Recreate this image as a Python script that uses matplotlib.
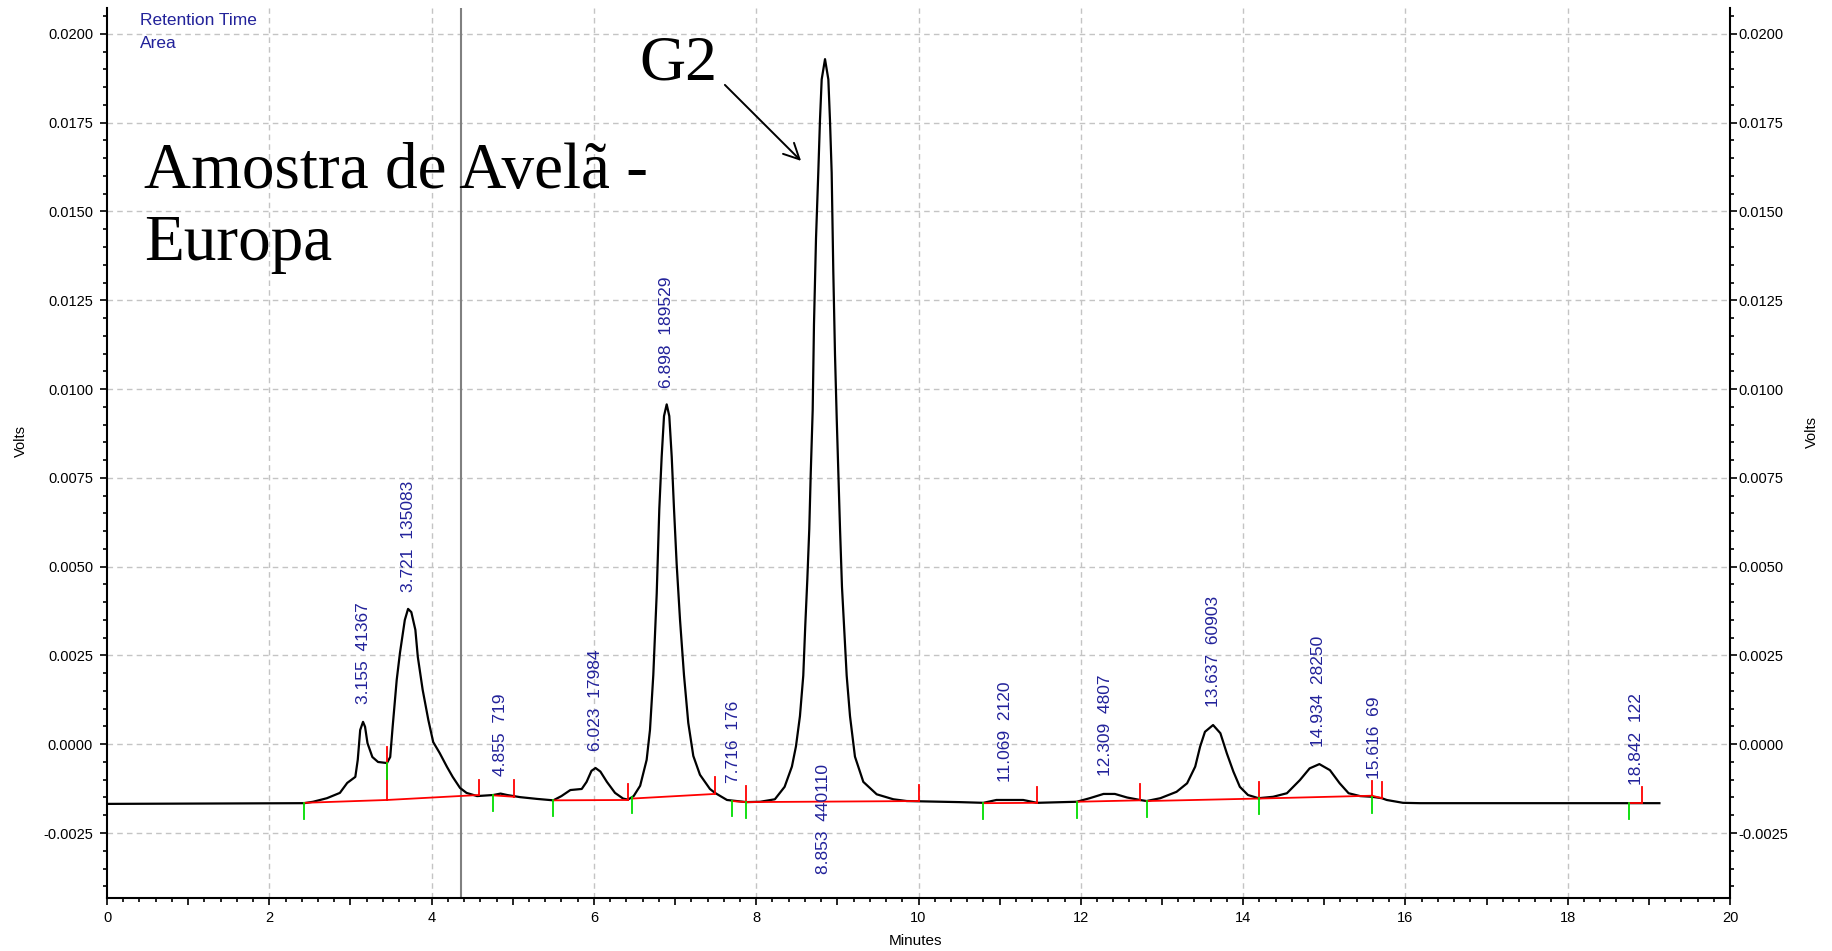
import numpy as np
import matplotlib

matplotlib.use("Agg")

import matplotlib.pyplot as plt
from matplotlib.ticker import MultipleLocator, FuncFormatter

plt.rcParams['font.family'] = ['Liberation Sans', 'DejaVu Sans']

# detector trace (minutes / volts)
trace_t = [0.00, 2.43, 2.54, 2.71, 2.87, 2.96, 3.06, 3.09, 3.12, 3.155, 3.18, 3.21, 3.27, 3.34,
           3.45, 3.49, 3.52, 3.57, 3.61, 3.67, 3.71, 3.75, 3.80, 3.83, 3.89, 3.96, 4.02, 4.10,
           4.19, 4.26, 4.35, 4.43, 4.56, 4.76, 4.85, 4.93, 5.09, 5.30, 5.50, 5.60, 5.71, 5.85,
           5.91, 5.97, 6.02, 6.08, 6.16, 6.26, 6.36, 6.42, 6.49, 6.57, 6.650, 6.691, 6.732,
           6.774, 6.806, 6.835, 6.864, 6.897, 6.929, 6.959, 6.987, 7.020, 7.061, 7.110, 7.163,
           7.225, 7.307, 7.430, 7.492, 7.64, 7.88, 8.05, 8.23, 8.35, 8.44, 8.490, 8.539, 8.580,
           8.605, 8.630, 8.654, 8.672, 8.696, 8.712, 8.737, 8.765, 8.786, 8.807, 8.848, 8.889,
           8.909, 8.930, 8.950, 8.971, 8.992, 9.012, 9.033, 9.057, 9.082, 9.115, 9.156, 9.217,
           9.320, 9.485, 9.690, 9.855, 10.50, 10.80, 10.96, 11.29, 11.46, 11.95, 12.11, 12.28,
           12.42, 12.57, 12.73, 12.81, 12.98, 13.18, 13.31, 13.41, 13.47, 13.53, 13.63, 13.72,
           13.80, 13.88, 13.96, 14.06, 14.19, 14.37, 14.54, 14.70, 14.82, 14.94, 15.07, 15.19,
           15.30, 15.44, 15.59, 15.71, 15.77, 15.97, 16.18, 18.75, 19.13]
trace_v = [-0.00168, -0.00166, -0.00162, -0.00152, -0.00137, -0.00109, -0.00092, -0.00044,
           0.00040, 0.00063, 0.00049, 0.00003, -0.00036, -0.00050, -0.00053, -0.00036, 0.00049,
           0.00181, 0.00257, 0.00350, 0.00381, 0.00372, 0.00322, 0.00246, 0.00153, 0.00068,
           0.00006, -0.00025, -0.00064, -0.00092, -0.00123, -0.00137, -0.00146, -0.00143,
           -0.00139, -0.00143, -0.00149, -0.00154, -0.00158, -0.00146, -0.00129, -0.00126,
           -0.00106, -0.00075, -0.00067, -0.00077, -0.00106, -0.00137, -0.00153, -0.00156,
           -0.00146, -0.00117, -0.00044, 0.00040, 0.00195, 0.00424, 0.00663, 0.00809, 0.00924,
           0.00957, 0.00924, 0.00809, 0.00663, 0.00507, 0.00351, 0.00195, 0.00060, -0.00033,
           -0.00086, -0.00126, -0.00137, -0.00157, -0.00163, -0.00162, -0.00155, -0.00120,
           -0.00063, -0.00006, 0.00079, 0.00193, 0.00336, 0.00464, 0.00606, 0.00762, 0.00940,
           0.01182, 0.01424, 0.01609, 0.01758, 0.01872, 0.01929, 0.01872, 0.01758, 0.01609,
           0.01332, 0.01097, 0.00919, 0.00762, 0.00606, 0.00443, 0.00336, 0.00193, 0.00079,
           -0.00035, -0.00106, -0.00141, -0.00155, -0.00160, -0.00163, -0.00165, -0.00157,
           -0.00157, -0.00165, -0.00162, -0.00152, -0.00140, -0.00140, -0.00150, -0.00157,
           -0.00160, -0.00152, -0.00134, -0.00110, -0.00063, -0.00007, 0.00035, 0.00054,
           0.00031, -0.00026, -0.00077, -0.00120, -0.00143, -0.00152, -0.00148, -0.00138,
           -0.00101, -0.00068, -0.00056, -0.00073, -0.00110, -0.00138, -0.00146, -0.00148,
           -0.00152, -0.00157, -0.00165, -0.00166, -0.00166, -0.00166]

# integration results
peak_rt    = [3.155, 3.721, 4.855, 6.023, 6.898, 7.716, 8.853, 11.069, 12.309, 13.637, 14.934, 15.616, 18.842]
peak_area  = [41367, 135083, 719, 17984, 189529, 176, 440110, 2120, 4807, 60903, 28250, 69, 122]
peak_start = [2.43, 3.45, 4.76, 5.50, 6.47, 7.70, 7.88, 10.80, 11.95, 12.81, 14.19, 15.59, 18.75]
peak_end   = [3.45, 4.58, 5.02, 6.42, 7.49, 7.88, 10.00, 11.46, 12.73, 14.19, 15.59, 15.71, 18.91]
base_start = [-0.00165, -0.00157, -0.00144, -0.00158, -0.00153, -0.00160, -0.00163,
              -0.00166, -0.00162, -0.00160, -0.00153, -0.00145, -0.00165]
base_end   = [-0.00157, -0.00143, -0.00148, -0.00157, -0.00140, -0.00163, -0.00160,
              -0.00165, -0.00158, -0.00153, -0.00145, -0.00152, -0.00165]

cursor_t = 4.36
YMIN, YMAX = -0.00433, 0.02073
BLUE = '#22229a'

fig = plt.figure(figsize=(18.32, 9.51), dpi=100)
ax = fig.add_axes([107/1832, 1-898/951, 1623/1832, 890/951])
ax.set_xlim(0, 20)
ax.set_ylim(YMIN, YMAX)

# grid (dashed, only on labelled ticks)
for gx in range(2, 20, 2):
    ax.axvline(gx, color='#c4c4c4', lw=1, ls=(0, (4, 3)), zorder=0)
for gy in np.arange(-0.0025, 0.0201, 0.0025):
    ax.axhline(gy, color='#c4c4c4', lw=1, ls=(0, (4, 3)), zorder=0)

ax.axvline(cursor_t, color='#808080', lw=1.5, zorder=1)

ax.plot(trace_t, trace_v, color='black', lw=1.6, zorder=3)

tick = 0.00045
for rt, area, s, e, bs, be in zip(peak_rt, peak_area, peak_start, peak_end, base_start, base_end):
    ax.plot([s, e], [bs, be], color='red', lw=1.3, zorder=4)
    ys = np.interp(s, trace_t, trace_v)
    ye = np.interp(e, trace_t, trace_v)
    ax.plot([e, e], [be, ye + tick], color='red', lw=1.3, zorder=4)
    ax.plot([s, s], [ys, ys - tick], color='#00dd00', lw=1.3, zorder=5)

    apex = np.interp(np.linspace(s, e, 60), trace_t, trace_v).max()
    lab = f"{rt:.3f}  {area}"
    if apex > 0.015:
        # too tall: software drops the label below the peak
        ax.text(rt - 0.02, -0.00055, lab, rotation=90, ha='center', va='top',
                color=BLUE, fontsize=12.5, zorder=6)
    else:
        ax.text(rt, apex + 0.0005, lab, rotation=90, ha='center', va='bottom',
                color=BLUE, fontsize=12.5, zorder=6)

# axes styling
for side in ['top', 'right']:
    ax.spines[side].set_visible(False)
ax.spines['left'].set_linewidth(1.5)
ax.spines['bottom'].set_linewidth(1.5)

ax.xaxis.set_major_locator(MultipleLocator(1))
ax.xaxis.set_minor_locator(MultipleLocator(0.2))
ax.xaxis.set_major_formatter(FuncFormatter(lambda v, p: f"{v:.0f}" if round(v) % 2 == 0 else ""))

yfmt = FuncFormatter(lambda v, p: "0.0000" if abs(v) < 1e-9 else f"{v:.4f}")
ax.yaxis.set_major_locator(MultipleLocator(0.0025))
ax.yaxis.set_minor_locator(MultipleLocator(0.0005))
ax.yaxis.set_major_formatter(yfmt)

ax.tick_params(which='both', direction='out', width=1.2, labelsize=10.5)
ax.tick_params(which='major', length=5)
ax.tick_params(which='minor', length=3)
ax.tick_params(axis='y', pad=5)
ax.tick_params(axis='x', pad=4)

ax2 = ax.twinx()
ax2.set_ylim(YMIN, YMAX)
for side in ['top', 'left', 'bottom']:
    ax2.spines[side].set_visible(False)
ax2.spines['right'].set_linewidth(1.5)
ax2.yaxis.set_major_locator(MultipleLocator(0.0025))
ax2.yaxis.set_minor_locator(MultipleLocator(0.0005))
ax2.yaxis.set_major_formatter(yfmt)
ax2.tick_params(which='both', direction='out', width=1.2, labelsize=10.5, pad=1)
ax2.tick_params(which='major', length=5)
ax2.tick_params(which='minor', length=3)

fig.text(21/1832, 1-441/951, 'Volts', rotation=90, ha='center', va='center', fontsize=10.5)
fig.text(1812/1832, 1-432/951, 'Volts', rotation=90, ha='center', va='center', fontsize=10.5)
fig.text(916/1832, 1-941/951, 'Minutes', ha='center', va='center', fontsize=11)

fig.text(140/1832, 1-25/951, 'Retention Time', color=BLUE, fontsize=12.5, va='baseline')
fig.text(140/1832, 1-48/951, 'Area', color=BLUE, fontsize=12.5, va='baseline')

# baseline alignment goes to the last line of the block
fig.text(144/1832, 1-260/951, 'Amostra de Avelã -\nEuropa', family='Liberation Serif',
         fontsize=47, va='baseline', linespacing=1.28)
fig.text(639/1832, 1-79/951, 'G2', family='Liberation Serif', fontsize=46, va='baseline')
ax.annotate('', xy=(8.577, 0.01637), xytext=(7.59, 0.01862),
            arrowprops=dict(arrowstyle='->', lw=1.4, color='black', mutation_scale=28))

fig.savefig('out.png', dpi=100)
